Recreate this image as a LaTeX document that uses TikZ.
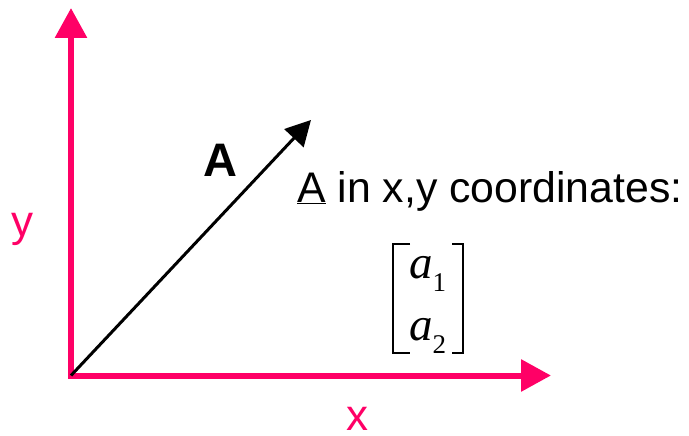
\documentclass[tikz,border=0pt]{standalone}
\usepackage{fontspec}
\setmainfont{Liberation Sans}
\newfontfamily\timesf{Liberation Serif}
\usetikzlibrary{arrows.meta}
\definecolor{axpink}{HTML}{FF0066}
\tikzset{
  axis/.style={draw=axpink, line width=6pt, -{Triangle[length=30pt,width=31pt]}},
  vec/.style={draw=black, line width=3pt, -{Triangle[length=25pt,width=26pt]}},
  lbl/.style={inner sep=0pt, anchor=base, text depth=0pt, text=axpink, font=\fontsize{44}{44}\selectfont},
  txt/.style={inner sep=0pt, font=\fontsize{42.8}{44}\selectfont},
  mel/.style={inner sep=0pt, anchor=base west, font=\timesf\fontsize{47}{47}\selectfont},
  brk/.style={draw=black, line width=2pt}
}
\begin{document}
\begin{tikzpicture}[x=1pt,y=-1pt]
\useasboundingbox (0,0) rectangle (689,436);
\coordinate (O) at (71,375.5);
\coordinate (Ov) at (71,378.5);
\coordinate (Oh) at (68,375.5);
\coordinate (ytip) at (71,8);
\coordinate (xtip) at (551,375.5);
\coordinate (Atip) at (311,120);
\draw[axis] (Ov) -- (ytip);
\draw[axis] (Oh) -- (xtip);
\draw[vec] (O) -- (Atip);
\node[txt, font=\fontsize{47}{47}\selectfont\bfseries, anchor=base] (Alab) at (220,176) {A};
\node[txt, anchor=base west] (desc) at (297,202) {\underline{A} in x,y coordinates:};
\node[lbl] (ylab) at (22,236) {y};
\node[lbl] (xlab) at (357,430) {x};
\node[mel] (a1) at (409,278) {\textit{a}\raisebox{-0.28em}{\fontsize{27}{27}\selectfont 1}};
\node[mel] (a2) at (409,340) {\textit{a}\raisebox{-0.28em}{\fontsize{27}{27}\selectfont 2}};
\draw[brk] (410,244) -- (393,244) -- (393,353) -- (410,353);
\draw[brk] (452,244) -- (463,244) -- (463,353) -- (452,353);
\end{tikzpicture}
\end{document}
